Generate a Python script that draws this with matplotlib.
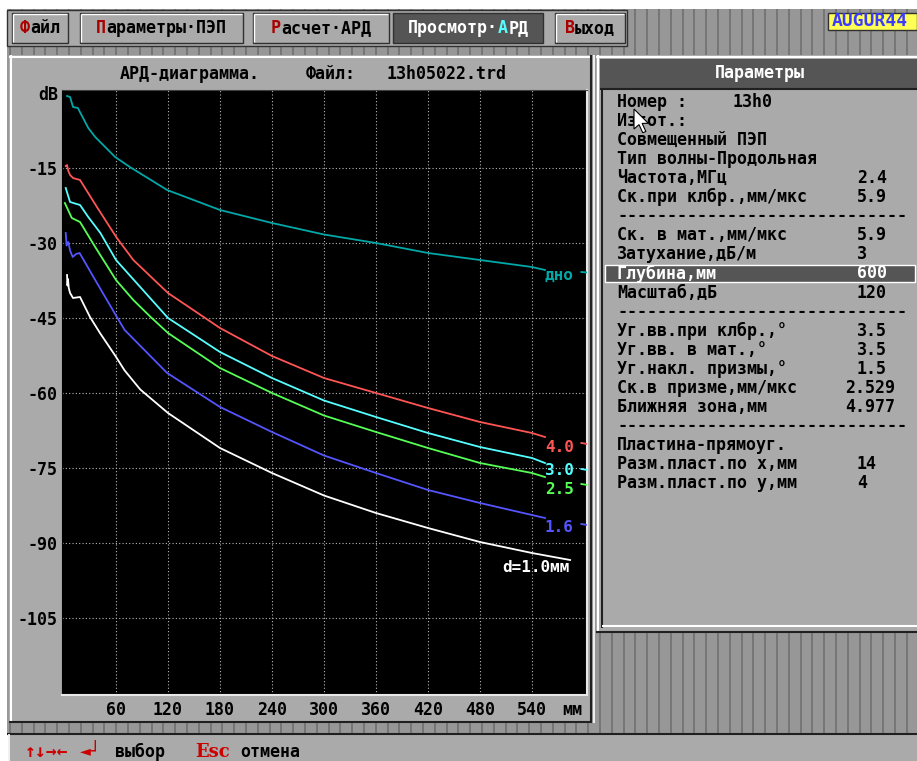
import numpy as np
import matplotlib.pyplot as plt
from matplotlib.patches import Rectangle, Polygon

plt.rcParams['font.family'] = ['DejaVu Sans Mono', 'DejaVu Sans']
plt.rcParams['font.weight'] = 'bold'

# АРД-кривые: глубина, мм / амплитуда, дБ (последние 2 точки - хвост справа от подписи)
bottom_x = [3.5, 7, 10.4, 16, 28, 36, 59, 76, 119, 180, 240, 300, 360, 420, 480, 540, 555, 597, 604]
bottom_y = [-0.6, -0.8, -2.8, -3, -7, -8.8, -12.8, -14.8, -19.4, -23.4, -26, -28.3, -30, -32, -33.4, -34.8, -35.4, -35.8, -35.9]

d40_x = [2, 3.5, 5, 7, 10.4, 18.5, 38, 61, 80, 120, 180, 240, 300, 360, 420, 480, 540, 555, 597, 604]
d40_y = [-14.6, -14.4, -15.6, -16.4, -17, -17.4, -22.8, -29, -33.4, -40, -47, -52.6, -57, -60, -63, -65.8, -68, -68.8, -70, -70.2]

d30_x = [2, 7, 18.5, 28, 42, 60, 120, 180, 240, 300, 360, 420, 480, 540, 555, 597, 604]
d30_y = [-19, -21.8, -22.4, -24.8, -28, -33.4, -45, -51.8, -57, -61.5, -64.8, -68, -70.8, -73, -74, -75.2, -75.4]

d25_x = [1, 9, 18.5, 36, 60, 80, 100, 120, 180, 240, 300, 360, 420, 480, 540, 555, 597, 604]
d25_y = [-22, -25, -25.8, -30.8, -37.4, -41.4, -44.8, -48, -55, -60, -64.5, -67.8, -71, -74, -76, -76.8, -78.2, -78.4]

d16_x = [2, 3, 5, 7, 10, 14, 18, 34, 61, 70, 119, 180, 240, 300, 360, 420, 480, 540, 555, 597, 604]
d16_y = [-28, -30.5, -29.8, -31.5, -32.8, -32.2, -32, -36.8, -44.8, -47.4, -56, -62.8, -67.8, -72.5, -76, -79.4, -82, -84.4, -85, -86.2, -86.4]

d10_x = [3.5, 4, 4.6, 5.5, 7, 10.4, 18.5, 30, 41.5, 59, 70, 88, 120, 180, 240, 300, 360, 420, 480, 540, 584]
d10_y = [-36.4, -38.5, -37.2, -39, -40, -41, -40.8, -44.8, -48, -52.5, -55.5, -59.3, -64, -71, -76, -80.5, -84, -87, -89.8, -92, -93.4]

curve_names = ['дно', '4.0', '3.0', '2.5', '1.6', 'd=1.0мм']
curve_colors = ['#00a8a8', '#ff5555', '#55ffff', '#55ff55', '#5555ff', '#ffffff']
label_x = [555, 555, 555, 555, 555, 506]
label_y = [-36.4, -70.8, -75.5, -79.3, -86.8, -95]

x_ticks = [60, 120, 180, 240, 300, 360, 420, 480, 540]
y_ticks = [0, -15, -30, -45, -60, -75, -90, -105]
y_tick_labels = ['dB', '-15', '-30', '-45', '-60', '-75', '-90', '-105']

# правая панель "Параметры"
param_rows = [
    ('Номер :', '13h0'),
    ('Изгот.:', ''),
    ('Совмещенный ПЭП', ''),
    ('Тип волны-Продольная', ''),
    ('Частота,МГц', '2.4'),
    ('Ск.при клбр.,мм/мкс', '5.9'),
    ('-' * 29, ''),
    ('Ск. в мат.,мм/мкс', '5.9'),
    ('Затухание,дБ/м', '3'),
    ('Глубина,мм', '600'),
    ('Масштаб,дБ', '120'),
    ('-' * 29, ''),
    ('Уг.вв.при клбр.,°', '3.5'),
    ('Уг.вв. в мат.,°', '3.5'),
    ('Уг.накл. призмы,°', '1.5'),
    ('Ск.в призме,мм/мкс', '2.529'),
    ('Ближняя зона,мм', '4.977'),
    ('-' * 29, ''),
    ('Пластина-прямоуг.', ''),
    ('Разм.пласт.по x,мм', '14'),
    ('Разм.пласт.по y,мм', '4'),
]
selected_row = 9

GRAY = '#aaaaaa'
DGRAY = '#555555'
FS = 12
ADV = 0.602 * FS * 100 / 72  # ширина символа моноширинного шрифта, px

fig = plt.figure(figsize=(9.17, 7.61), dpi=100)
bg = fig.add_axes([0, 0, 1, 1])
bg.set_xlim(0, 917)
bg.set_ylim(761, 0)
bg.axis('off')


def rect(x0, y0, x1, y1, fc, ec='none', lw=0, z=1):
    bg.add_patch(Rectangle((x0, y0), x1 - x0, y1 - y0, facecolor=fc, edgecolor=ec, linewidth=lw, zorder=z))


def hline(x0, x1, y, c, lw=1.0, z=3):
    bg.plot([x0, x1], [y, y], color=c, lw=lw, zorder=z, solid_capstyle='butt')


def vline(x, y0, y1, c, lw=1.0, z=3):
    bg.plot([x, x], [y0, y1], color=c, lw=lw, zorder=z, solid_capstyle='butt')


def txt(x, y, s, c='black', ha='left', size=FS, z=5, **kw):
    bg.text(x, y, s, color=c, ha=ha, va='center', fontsize=size, fontweight='bold', zorder=z, **kw)


def parts(x, y, segs, size=FS):
    # цветные куски одной строки подряд
    adv = 0.602 * size * 100 / 72
    for s, c in segs:
        txt(x, y, s, c, size=size)
        x += len(s) * adv


# фон: белый и полосатая текстура
rect(0, 0, 917, 761, 'white', z=0)
rect(7, 9, 917, 734, '#979797', z=0.5)
for xs in np.arange(10, 917, 11.8):
    vline(xs, 9, 734, '#6c6c6c', lw=1.1, z=0.6)

# меню
rect(7, 10, 627, 46, GRAY, ec='#303030', lw=1, z=1)
menu = [(12, 68, [('Ф', '#aa0000'), ('айл', 'black')], False),
        (80, 243, [('П', '#aa0000'), ('араметры·ПЭП', 'black')], False),
        (253, 389, [('Р', '#aa0000'), ('асчет·АРД', 'black')], False),
        (393, 543, [('Просмотр·', 'white'), ('А', '#55ffff'), ('РД', 'white')], True),
        (555, 625, [('В', '#aa0000'), ('ыход', 'black')], False)]
for x0, x1, segs, active in menu:
    rect(x0, 13, x1, 43, DGRAY if active else GRAY, ec='#303030', lw=1, z=2)
    if not active:
        hline(x0 + 1, x1 - 1, 14, 'white', z=3)
        vline(x0 + 1, 14, 42, 'white', z=3)
    n = sum(len(s) for s, _ in segs)
    parts((x0 + x1) / 2 - n * ADV / 2, 28, segs)

rect(828, 13, 917, 30, '#ffff55', ec='#303030', lw=1, z=2)
txt(832, 21.5, 'AUGUR44', '#3c3cff', size=13)

# левая панель (диаграмма)
rect(9, 55, 592, 723, GRAY, z=1)
vline(11, 55, 723, 'white', lw=1.5)
hline(9, 592, 56.5, 'white', lw=1.5)
vline(591, 55, 723, '#202020', lw=1.5)
hline(9, 592, 722, '#202020', lw=1.5)
vline(593.5, 55, 723, 'white', lw=1.2)
txt(120, 74, 'АРД-диаграмма.')
txt(306, 74, 'Файл:')
txt(387, 74, '13h05022.trd')
txt(572, 710, 'мм', ha='center')

# правая панель
rect(596, 55, 917, 632, GRAY, z=1)
vline(597.5, 55, 632, 'white', lw=1.5)
hline(596, 917, 56.5, 'white', lw=1.5)
rect(600, 59, 917, 88, DGRAY, z=2)
txt(760, 73.5, 'Параметры', 'white', ha='center')
hline(600, 917, 89, '#202020', lw=1.5)
vline(602, 89, 628, '#202020', lw=1.5)
hline(602, 917, 626, 'white', lw=1.5)
hline(596, 917, 631.5, '#202020', lw=1.5)

value_x = {'13h0': 732, '2.529': 845, '4.977': 845}
for i, (lab, val) in enumerate(param_rows):
    yy = 102 + 19.05 * i
    col = 'black'
    if i == selected_row:
        rect(605, yy - 8.5, 915, yy + 8.5, DGRAY, ec='white', lw=1, z=2)
        col = 'white'
    txt(617, yy, lab, col)
    if val:
        txt(value_x.get(val, 857), yy, val, col)

# курсор мыши
arrow = np.array([[0, 0], [0, 16], [4, 12.5], [7, 19], [9.5, 18], [6.5, 11.5], [11.5, 11.5]]) * 1.25
bg.add_patch(Polygon(arrow + [634, 109], closed=True, facecolor='white', edgecolor='black', lw=0.8, zorder=6))

# строка статуса
rect(8, 734, 917, 761, GRAY, z=1)
hline(7, 917, 733.5, '#202020', lw=1.5)
vline(9, 734, 761, 'white', lw=1.2)
txt(25, 752, '↑↓→←', '#cc0000', size=13)
txt(80, 752, '◄┘', '#cc0000', size=13)
txt(115, 752, 'выбор')
bg.text(195, 752, 'Esc', color='#cc0000', ha='left', va='center', fontsize=13, fontweight='bold',
        family='DejaVu Serif', zorder=5)
txt(240, 752, 'отмена')

# область графика
ax = fig.add_axes([62 / 917, 1 - 695 / 761, 525 / 917, 605 / 761])
ax.set_facecolor('black')
ax.set_xlim(-2.3, 603.5)
ax.set_ylim(-120.4, 0.6)
for gx in x_ticks:
    ax.axvline(gx, color='#b8b8b8', lw=0.8, ls=(0, (1, 2)), zorder=1)
for gy in y_ticks[1:]:
    ax.axhline(gy, color='#b8b8b8', lw=0.8, ls=(0, (1, 2)), zorder=1)

curves = [(bottom_x, bottom_y), (d40_x, d40_y), (d30_x, d30_y),
          (d25_x, d25_y), (d16_x, d16_y), (d10_x, d10_y)]
for k, (cx, cy) in enumerate(curves):
    cx = np.array(cx)
    cy = np.array(cy)
    if k < 5:
        ax.plot(cx[:-2], cy[:-2], color=curve_colors[k], lw=1.3, zorder=3)
        ax.plot(cx[-2:], cy[-2:], color=curve_colors[k], lw=1.3, zorder=3)
    else:
        ax.plot(cx, cy, color=curve_colors[k], lw=1.3, zorder=3)
    ax.text(label_x[k], label_y[k], curve_names[k], color=curve_colors[k], ha='left', va='center',
            fontsize=11.5, fontweight='bold', zorder=4)

ax.set_xticks(x_ticks)
ax.set_xticklabels([str(v) for v in x_ticks])
ax.set_yticks(y_ticks)
ax.set_yticklabels(y_tick_labels)
ax.tick_params(length=0, labelsize=FS, colors='black')
ax.tick_params(axis='x', pad=4)
ax.tick_params(axis='y', pad=3)
for lab in ax.get_xticklabels() + ax.get_yticklabels():
    lab.set_fontweight('bold')
ax.spines['bottom'].set_color('#e8e8e8')
ax.spines['right'].set_color('#e8e8e8')
ax.spines['bottom'].set_linewidth(1.5)
ax.spines['right'].set_linewidth(1.5)
ax.spines['left'].set_color('black')
ax.spines['top'].set_color('#404040')

fig.savefig('out.png', dpi=100)
